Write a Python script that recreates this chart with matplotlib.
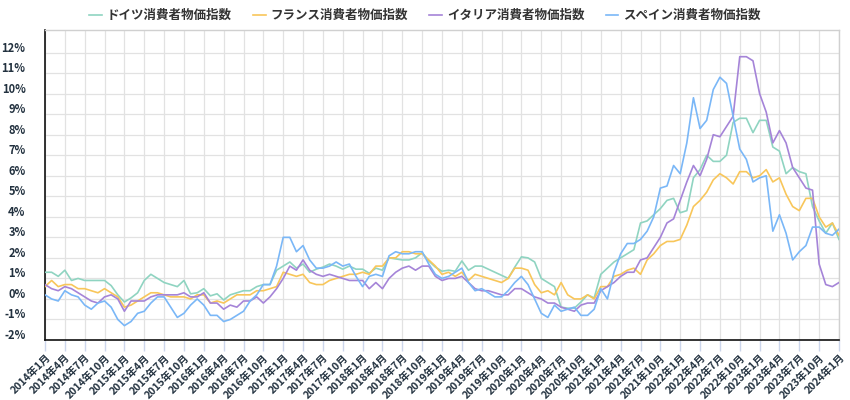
import matplotlib
matplotlib.use("Agg")
import matplotlib.pyplot as plt
import matplotlib.transforms as mtransforms

plt.rcParams['font.family'] = ['Noto Sans CJK JP', 'DejaVu Sans']

# ---- data (monthly, 2014-01 .. 2024-01), % year on year ----
months = [f"{y}年{m}月" for y in range(2014, 2025) for m in range(1, 13)][:121]

germany = [1.3, 1.3, 1.1, 1.4, 0.9, 1.0, 0.9, 0.9, 0.9, 0.9, 0.65, 0.2,
           -0.15, 0.05, 0.3, 0.9, 1.2, 1.0, 0.8, 0.7, 0.6, 0.9, 0.25, 0.3,
           0.5, 0.15, 0.25, -0.05, 0.2, 0.3, 0.4, 0.4, 0.6, 0.7, 0.7, 1.4,
           1.6, 1.8, 1.5, 1.7, 1.3, 1.45, 1.55, 1.7, 1.6, 1.45, 1.6, 1.45,
           1.45, 1.25, 1.5, 1.4, 2.0, 1.95, 1.9, 1.9, 2.0, 2.25, 1.85, 1.55,
           1.35, 1.4, 1.35, 1.85, 1.4, 1.6, 1.6, 1.45, 1.3, 1.15, 1.0, 1.55,
           2.05, 2.0, 1.8, 1.0, 0.8, 0.6, -0.4, -0.45, -0.45, -0.15, 0.2, 0.05,
           1.2, 1.5, 1.8, 2.0, 2.2, 2.4, 3.7, 3.8, 4.1, 4.4, 4.8, 4.9,
           4.2, 4.3, 5.9, 6.3, 7.0, 6.7, 6.7, 7.0, 8.6, 8.8, 8.8, 8.1,
           8.7, 8.7, 7.4, 7.2, 6.1, 6.4, 6.2, 6.1, 4.5, 3.8, 3.2, 3.7,
           2.9]

france = [0.6, 0.9, 0.6, 0.7, 0.7, 0.5, 0.5, 0.4, 0.3, 0.5, 0.3, 0.1,
          -0.4, -0.3, -0.1, 0.1, 0.3, 0.3, 0.2, 0.1, 0.1, 0.1, 0.0, 0.2,
          0.2, -0.2, -0.1, -0.2, 0.0, 0.2, 0.2, 0.2, 0.4, 0.4, 0.5, 0.6,
          1.3, 1.2, 1.1, 1.2, 0.8, 0.7, 0.7, 0.9, 1.0, 1.1, 1.2, 1.2,
          1.3, 1.2, 1.6, 1.6, 2.0, 2.0, 2.3, 2.3, 2.2, 2.2, 1.9, 1.6,
          1.2, 1.3, 1.1, 1.3, 0.9, 1.2, 1.1, 1.0, 0.9, 0.8, 1.0, 1.5,
          1.5, 1.4, 0.7, 0.3, 0.4, 0.2, 0.8, 0.2, 0.0, 0.0, 0.2, 0.0,
          0.6, 0.6, 1.1, 1.2, 1.4, 1.5, 1.2, 1.9, 2.2, 2.6, 2.8, 2.8,
          2.9, 3.6, 4.5, 4.8, 5.2, 5.8, 6.1, 5.9, 5.6, 6.2, 6.2, 5.9,
          6.0, 6.3, 5.7, 5.9, 5.1, 4.5, 4.3, 4.9, 4.9, 4.0, 3.5, 3.7,
          3.1]

italy = [0.7, 0.5, 0.4, 0.6, 0.5, 0.3, 0.1, -0.1, -0.2, 0.1, 0.2, 0.0,
         -0.6, -0.1, -0.1, -0.1, 0.1, 0.2, 0.2, 0.2, 0.2, 0.3, 0.1, 0.1,
         0.3, -0.2, -0.2, -0.5, -0.3, -0.4, -0.1, -0.1, 0.1, -0.2, 0.1, 0.5,
         1.0, 1.6, 1.4, 1.9, 1.4, 1.2, 1.1, 1.2, 1.1, 1.0, 0.9, 0.9,
         0.9, 0.5, 0.8, 0.5, 1.0, 1.3, 1.5, 1.6, 1.4, 1.6, 1.6, 1.1,
         0.9, 1.0, 1.0, 1.1, 0.8, 0.5, 0.4, 0.4, 0.3, 0.2, 0.2, 0.5,
         0.5, 0.3, 0.1, 0.0, -0.2, -0.2, -0.4, -0.5, -0.6, -0.3, -0.2, -0.2,
         0.4, 0.6, 0.8, 1.1, 1.3, 1.3, 1.9, 2.0, 2.5, 3.0, 3.7, 3.9,
         4.8, 5.7, 6.5, 6.0, 6.8, 8.0, 7.9, 8.4, 8.9, 11.8, 11.8, 11.6,
         10.0, 9.1, 7.6, 8.2, 7.6, 6.4, 5.9, 5.4, 5.3, 1.7, 0.7, 0.6,
         0.8]

spain = [0.2, 0.0, -0.1, 0.4, 0.2, 0.1, -0.3, -0.5, -0.2, -0.1, -0.4, -1.0,
         -1.3, -1.1, -0.7, -0.6, -0.2, 0.1, 0.1, -0.4, -0.9, -0.7, -0.3, 0.0,
         -0.3, -0.8, -0.8, -1.1, -1.0, -0.8, -0.6, -0.1, 0.2, 0.7, 0.7, 1.6,
         3.0, 3.0, 2.3, 2.6, 1.9, 1.5, 1.5, 1.6, 1.8, 1.6, 1.7, 1.1,
         0.6, 1.1, 1.2, 1.1, 2.1, 2.3, 2.2, 2.2, 2.3, 2.3, 1.7, 1.2,
         1.0, 1.1, 1.3, 1.5, 0.8, 0.4, 0.5, 0.3, 0.1, 0.1, 0.4, 0.8,
         1.1, 0.7, 0.0, -0.7, -0.9, -0.3, -0.6, -0.5, -0.4, -0.8, -0.8, -0.5,
         0.5, 0.0, 1.3, 2.2, 2.7, 2.7, 2.9, 3.3, 4.0, 5.4, 5.5, 6.5,
         6.1, 7.6, 9.8, 8.3, 8.7, 10.2, 10.8, 10.5, 8.9, 7.3, 6.8, 5.7,
         5.9, 6.0, 3.3, 4.1, 3.2, 1.9, 2.3, 2.6, 3.5, 3.5, 3.2, 3.1,
         3.4]

series_names = ["ドイツ消費者物価指数", "フランス消費者物価指数",
                "イタリア消費者物価指数", "スペイン消費者物価指数"]
series_data = [germany, france, italy, spain]
colors = ["#8fd4c1", "#f8c65a", "#a584d8", "#7ab7f7"]

y_ticks = list(range(-2, 13))

# ---- figure ----
fig = plt.figure(figsize=(8.5, 4.0), dpi=100)
ax = fig.add_axes([45 / 850, 1 - 340 / 400, (839 - 45) / 850, (340 - 30) / 400])

x = list(range(len(months)))
for name, data, c in zip(series_names, series_data, colors):
    ax.plot(x, data, color=c, lw=1.2, label=name, zorder=3)

ax.set_xlim(0, len(months) - 1)
ax.set_ylim(-2, 13.1)

xt = list(range(0, len(months), 3))
ax.set_xticks(xt)
ax.set_xticklabels([months[i] for i in xt], rotation=45, ha='right', va='top',
                   rotation_mode='anchor', fontsize=7.5, fontweight='bold',
                   color='#22313f')
ax.set_yticks(y_ticks)
ax.set_yticklabels([f"{v}%" for v in y_ticks], fontsize=8, fontweight='bold',
                   color='#22313f')

ax.grid(True, color='#e2e2e2', lw=0.9, zorder=0)
ax.tick_params(axis='x', length=8, color='#ccd6eb', width=1, pad=1)
ax.tick_params(axis='y', length=0, pad=14)

offset = mtransforms.ScaledTranslation(0, 6 / 100, fig.dpi_scale_trans)
for lab in ax.get_yticklabels():
    lab.set_transform(lab.get_transform() + offset)

for s in ['top', 'right']:
    ax.spines[s].set_color('#d0d0d0')
    ax.spines[s].set_linewidth(1)
for s in ['left', 'bottom']:
    ax.spines[s].set_color('#111111')
    ax.spines[s].set_linewidth(1.2)

leg = fig.legend(loc='upper center', bbox_to_anchor=(0.5, 1.005), ncol=4,
                 frameon=False, fontsize=9, handlelength=1.0, handletextpad=0.4,
                 columnspacing=1.7)
for t in leg.get_texts():
    t.set_color('#333333')
    t.set_fontweight('bold')

fig.savefig("out.png", dpi=100)
